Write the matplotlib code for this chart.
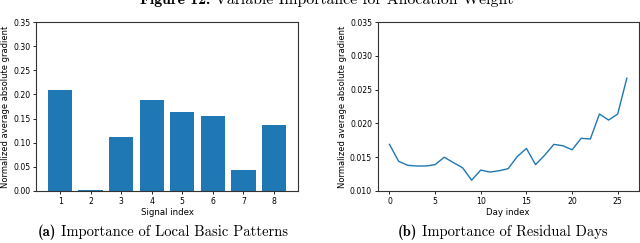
import matplotlib.pyplot as plt

# values
signal_idx = [1, 2, 3, 4, 5, 6, 7, 8]
signal_grad = [0.210, 0.0015, 0.111, 0.188, 0.164, 0.155, 0.044, 0.136]

day_idx = list(range(27))
day_grad = [0.0169, 0.0144, 0.0138, 0.0137, 0.0137, 0.0139, 0.0150, 0.0142,
            0.01345, 0.0116, 0.0131, 0.0128, 0.0130, 0.0133, 0.0151, 0.0163,
            0.0139, 0.0153, 0.0169, 0.0167, 0.0161, 0.0178, 0.0177, 0.0214,
            0.0205, 0.0214, 0.0267]

plt.rcParams['axes.edgecolor'] = '#333333'
plt.rcParams['xtick.major.size'] = 2
plt.rcParams['ytick.major.size'] = 2
plt.rcParams['xtick.major.width'] = 0.6
plt.rcParams['ytick.major.width'] = 0.6
plt.rcParams['axes.linewidth'] = 0.8

fig = plt.figure(figsize=(6.4, 2.43), dpi=100)

# (a) bar chart of local basic patterns
ax1 = fig.add_axes([0.0563, 0.214, 0.4093, 0.695])
ax1.bar(signal_idx, signal_grad, width=0.8, color='#1f77b4')
ax1.set_ylim(0, 0.35)
ax1.set_xticks(signal_idx)
ax1.set_yticks([0.0, 0.05, 0.10, 0.15, 0.20, 0.25, 0.30, 0.35])
ax1.set_yticklabels(['0.00', '0.05', '0.10', '0.15', '0.20', '0.25', '0.30', '0.35'])
ax1.set_xlabel('Signal index', fontsize=6.2, labelpad=1.5)
ax1.set_ylabel('Normalized average absolute gradient', fontsize=6, labelpad=2)
ax1.tick_params(labelsize=5.6, pad=2)

# (b) line chart of residual days
ax2 = fig.add_axes([0.590, 0.214, 0.408, 0.695])
ax2.plot(day_idx, day_grad, color='#1f77b4', linewidth=1)
ax2.set_ylim(0.010, 0.035)
ax2.set_yticks([0.010, 0.015, 0.020, 0.025, 0.030, 0.035])
ax2.set_yticklabels(['0.010', '0.015', '0.020', '0.025', '0.030', '0.035'])
ax2.set_xticks([0, 5, 10, 15, 20, 25])
ax2.set_xlabel('Day index', fontsize=6.2, labelpad=1.5)
ax2.set_ylabel('Normalized average absolute gradient', fontsize=6, labelpad=2)
ax2.tick_params(labelsize=5.6, pad=2)


# bold label followed by regular text, both in Computer Modern
def caption(x_px, y, bold, rest, size):
    t = fig.text(x_px / 640, y, bold, family='cmb10', fontsize=size, va='baseline')
    fig.canvas.draw()
    w = t.get_window_extent().width
    fig.text((x_px + w + size * 0.45) / 640, y, rest, family='cmr10',
             fontsize=size, va='baseline')


# figure title (cut at the top as in the paper) and sub captions
caption(140, 0.983, 'Figure 12:', 'Variable Importance for Allocation Weight', 11.4)
caption(38, 0.03, '(a)', 'Importance of Local Basic Patterns', 10.5)
caption(398, 0.03, '(b)', 'Importance of Residual Days', 10.5)

fig.savefig('out.png', dpi=100)
